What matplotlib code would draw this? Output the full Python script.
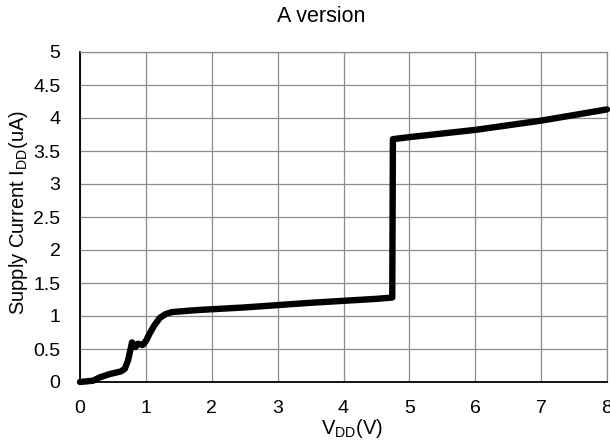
import matplotlib
matplotlib.use("Agg")
import matplotlib.pyplot as plt

plt.rcParams['font.family'] = ['Liberation Sans', 'DejaVu Sans']
plt.rcParams['mathtext.fontset'] = 'custom'
plt.rcParams['mathtext.rm'] = 'Liberation Sans'

vdd = [0.0, 0.2, 0.3, 0.45, 0.62, 0.68, 0.73, 0.79, 0.84, 0.88, 0.95, 1.0, 1.06, 1.13, 1.21, 1.3, 1.4, 1.78,
       2.5, 3.5, 4.5, 4.74, 4.75, 5.0, 6.0, 7.0, 8.0]
idd = [0.0, 0.02, 0.07, 0.12, 0.16, 0.2, 0.33, 0.6, 0.53, 0.58, 0.56, 0.62, 0.74, 0.86, 0.97, 1.03, 1.06, 1.09,
       1.13, 1.2, 1.26, 1.28, 3.68, 3.71, 3.82, 3.96, 4.13]

xticks = [0, 1, 2, 3, 4, 5, 6, 7, 8]
yticks = [0, 0.5, 1, 1.5, 2, 2.5, 3, 3.5, 4, 4.5, 5]
ytick_labels = ['0', '0.5', '1', '1.5', '2', '2.5', '3', '3.5', '4', '4.5', '5']

W, H = 610, 443
fig = plt.figure(figsize=(W/100, H/100), dpi=100)
ax = fig.add_axes([80/W, 1-382/H, 527/W, 330/H])
ax.plot(vdd, idd, color='black', lw=4.6, solid_joinstyle='round', solid_capstyle='round', zorder=3, clip_on=False)
ax.set_xlim(0, 8)
ax.set_ylim(0, 5)
ax.set_xticks(xticks)
ax.set_yticks(yticks)
ax.set_yticklabels(ytick_labels)
ax.grid(True, color='#8c8c8c', lw=0.9)
ax.tick_params(axis='y', length=0, labelsize=14, pad=14, colors='black')
ax.tick_params(axis='x', length=0, labelsize=14, pad=13, colors='black')
for s in ['top', 'right']:
    ax.spines[s].set_color('#8c8c8c')
    ax.spines[s].set_linewidth(0.9)
for s in ['left', 'bottom']:
    ax.spines[s].set_color('black')
    ax.spines[s].set_linewidth(1.3)
fig.text(321/W, 1-16/H, 'A version', fontsize=15.5, ha='center', va='center')
fig.text(352/W, 1-428/H, r'V$_{\mathrm{DD}}$(V)', fontsize=14.5, ha='center', va='center')
fig.text(19/W, 1-212/H, r'Supply Current I$_{\mathrm{DD}}$(uA)', fontsize=14.5, ha='center', va='center', rotation=90)
fig.savefig('out.png', dpi=100)
